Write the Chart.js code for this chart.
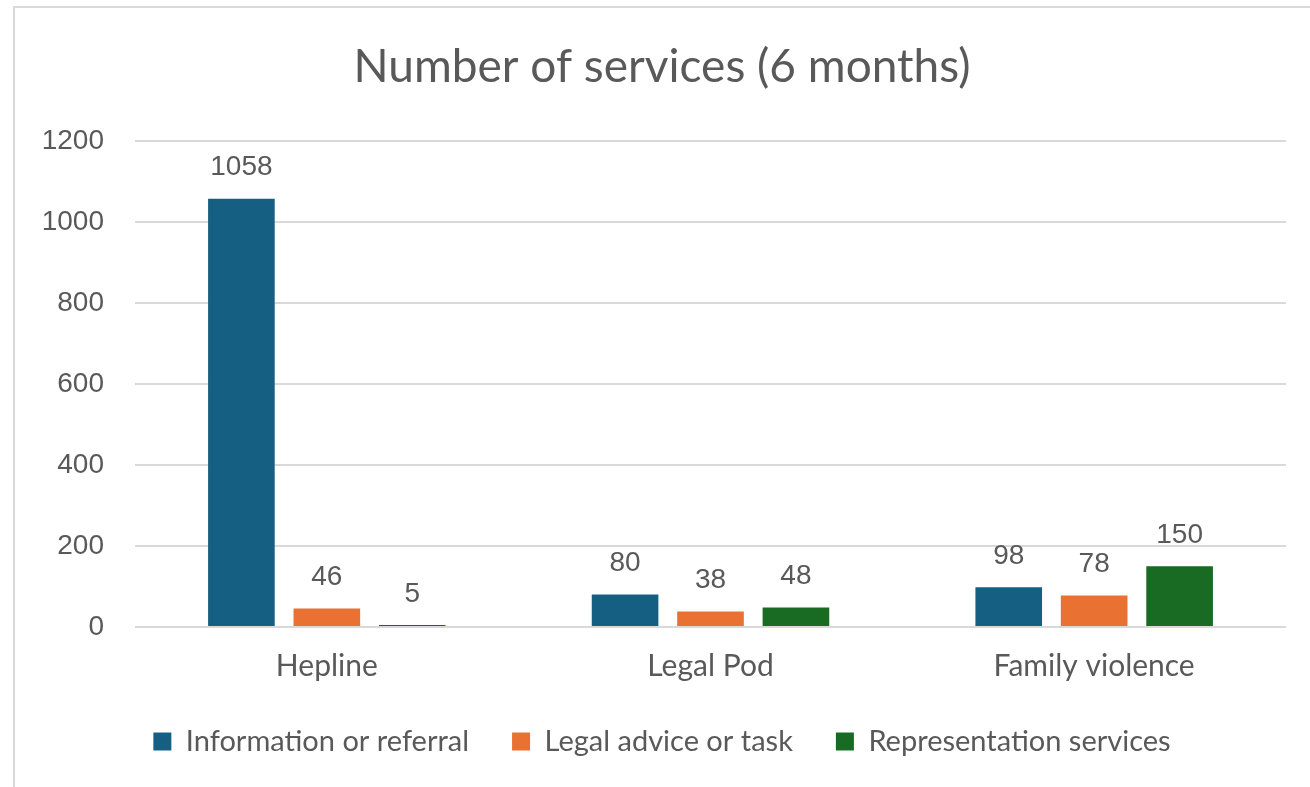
<!DOCTYPE html>
<html>
<head>
<meta charset="utf-8">
<script src="https://cdn.jsdelivr.net/npm/chart.js@4.4.1/dist/chart.umd.min.js"></script>
<style>
  html, body { margin: 0; padding: 0; background: #fff; overflow: hidden; }
  #frame {
    position: absolute; left: 13px; top: 6px; width: 1400px; height: 900px;
    border: 2px solid #d9d9d9; box-sizing: border-box;
  }
  #wrap { position: absolute; left: 0; top: 0; width: 1310px; height: 787px; }
</style>
</head>
<body>
<div id="frame"></div>
<div id="wrap"><canvas id="grafico"></canvas></div>
<script>
var categorias = ['Hepline', 'Legal Pod', 'Family violence'];
var informacion = [1058, 80, 98];
var asesoria = [46, 38, 78];
var representacion = [5, 48, 150];
var yTicks = [0, 200, 400, 600, 800, 1000, 1200];

var gris = '#595959';
var fuente = 'Lato, "Open Sans", sans-serif';

// etiquetas de valor encima de cada barra
var etiquetas = {
    id: 'etiquetas',
    afterDatasetsDraw: function(chart) {
        var ctx = chart.ctx;
        ctx.save();
        ctx.font = '28px "Liberation Sans", Arial, sans-serif';
        ctx.fillStyle = gris;
        ctx.textAlign = 'center';
        ctx.textBaseline = 'middle';
        chart.data.datasets.forEach(function(ds, i) {
            chart.getDatasetMeta(i).data.forEach(function(bar, j) {
                ctx.fillText(ds.data[j], bar.x, bar.y - 31);
            });
        });
        ctx.restore();
    }
};

document.addEventListener('DOMContentLoaded', function() {
    var ctx = document.getElementById('grafico').getContext('2d');
    new Chart(ctx, {
        type: 'bar',
        data: {
            labels: categorias,
            datasets: [
                { label: 'Information or referral', data: informacion, backgroundColor: '#156082' },
                { label: 'Legal advice or task', data: asesoria, backgroundColor: '#E97132' },
                { label: 'Representation services', data: representacion, backgroundColor: '#196B24' }
            ]
        },
        options: {
            responsive: true,
            maintainAspectRatio: false,
            animation: false,
            categoryPercentage: 0.668,
            barPercentage: 0.78,
            layout: { padding: { left: 38, right: 24, top: 0, bottom: 21 } },
            scales: {
                x: {
                    grid: { display: false, drawTicks: false },
                    border: { display: false },
                    ticks: {
                        color: gris,
                        padding: 21,
                        font: { family: fuente, size: 30 }
                    },
                    afterFit: function(s) { s.height = 57; }
                },
                y: {
                    min: 0,
                    max: 1200,
                    afterBuildTicks: function(s) {
                        s.ticks = yTicks.map(function(v) { return { value: v }; });
                    },
                    grid: { color: '#d9d9d9', lineWidth: 2, drawTicks: false },
                    border: { display: false },
                    ticks: {
                        color: gris,
                        padding: 31,
                        font: { family: '"Liberation Sans", Arial, sans-serif', size: 28 },
                        callback: function(v) { return String(v); }
                    },
                    afterFit: function(s) { s.width = 97; }
                }
            },
            plugins: {
                title: {
                    display: true,
                    text: 'Number of services (6 months)',
                    color: gris,
                    font: { family: fuente, size: 46, weight: 'normal' },
                    padding: { top: 40, bottom: 46 }
                },
                legend: {
                    position: 'bottom',
                    labels: {
                        color: gris,
                        boxWidth: 18,
                        boxHeight: 18,
                        padding: 43,
                        font: { family: fuente, size: 29 }
                    }
                },
                tooltip: { enabled: false }
            }
        },
        plugins: [etiquetas]
    });
});
</script>
</body>
</html>
